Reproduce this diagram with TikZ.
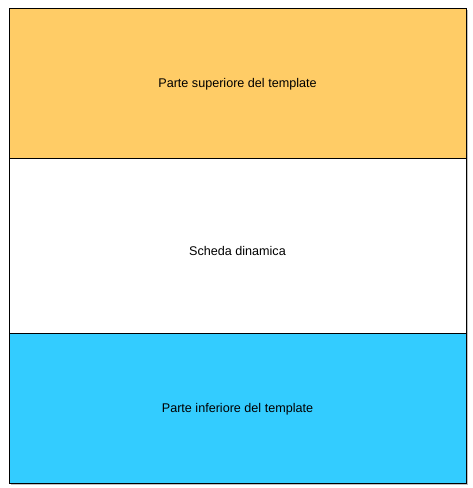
\documentclass[tikz,border=0pt]{standalone}
\usepackage{fontspec}
\setmainfont{Liberation Sans}
\definecolor{topc}{HTML}{FFCC66}
\definecolor{botc}{HTML}{33CCFF}
\begin{document}
\begin{tikzpicture}[x=1pt,y=-1pt,
  band/.style={draw=black,line width=0.9pt},
  lbl/.style={font=\fontsize{12.6}{15}\selectfont,text=black}]
\useasboundingbox[fill=white] (0,0) rectangle (473,488);
\fill[black!25] (11,10) rectangle (468,485);
\draw[band,fill=topc] (9,8) rectangle (466,158);
\draw[band,fill=white] (9,158) rectangle (466,333);
\draw[band,fill=botc] (9,333) rectangle (466,483);
\node[lbl] (top) at (237.5,84) {Parte superiore del template};
\node[lbl] (mid) at (237.5,251) {Scheda dinamica};
\node[lbl] (bot) at (237.5,409) {Parte inferiore del template};
\end{tikzpicture}
\end{document}
